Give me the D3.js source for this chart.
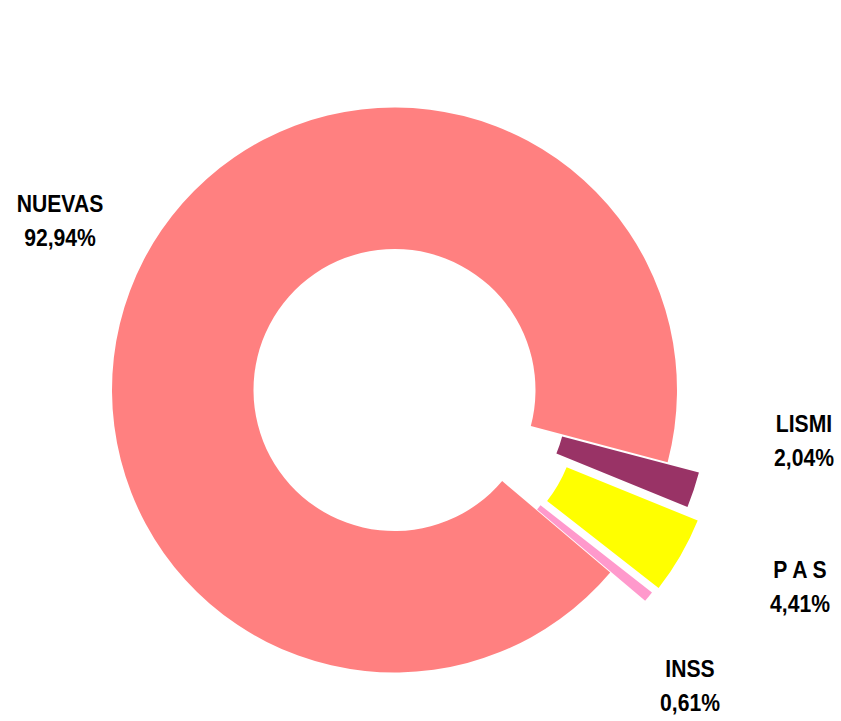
<!DOCTYPE html>
<html>
<head>
<meta charset="utf-8">
<script src="https://cdn.jsdelivr.net/npm/d3@7"></script>
<style>
  html, body { margin: 0; padding: 0; background: #fff; }
  svg { display: block; }
  text { font-family: "Liberation Sans", Arial, sans-serif; font-weight: bold; fill: #000; }
</style>
</head>
<body>
<svg id="chart" width="841" height="721"></svg>
<script>
// ---- data ----
const categories  = ["LISMI", "P A S", "INSS", "NUEVAS"];
const values      = [2.04, 4.41, 0.61, 92.94];
const valueLabels = ["2,04%", "4,41%", "0,61%", "92,94%"];

// ---- styles / layout ----
const colors   = ["#993366", "#FFFF00", "#FF99CC", "#FF8080"];
const explode  = [33, 48, 45, 0];               // px the slice is pulled out
const labelPos = [[409.5, 42], [405.5, 188], [295.5, 287], [-334.5, -178]]; // relative to centre
const cx = 394.5, cy = 390, rOuter = 282.5, rInner = 141;
const startDeg = 104.8;

const svg = d3.select("#chart");
const g = svg.append("g").attr("transform", `translate(${cx},${cy})`);

const data = categories.map((c, i) => ({ name: c, value: values[i], label: valueLabels[i], color: colors[i], ex: explode[i], lp: labelPos[i] }));

const pie = d3.pie().sort(null).value(d => d.value)
  .startAngle(startDeg * Math.PI / 180)
  .endAngle(startDeg * Math.PI / 180 + 2 * Math.PI);

const arc = d3.arc().innerRadius(rInner).outerRadius(rOuter);

const arcs = pie(data);

g.selectAll("path.slice").data(arcs).enter().append("path")
  .attr("class", "slice")
  .attr("d", arc)
  .attr("fill", d => d.data.color)
  .attr("transform", d => {
    const mid = (d.startAngle + d.endAngle) / 2;
    return `translate(${d.data.ex * Math.sin(mid)},${-d.data.ex * Math.cos(mid)})`;
  });

const lab = g.selectAll("g.lab").data(arcs).enter().append("g")
  .attr("class", "lab")
  .attr("transform", d => `translate(${d.data.lp[0]},${d.data.lp[1]}) scale(0.92,1)`);

lab.append("text")
  .attr("text-anchor", "middle")
  .attr("font-size", 23)
  .text(d => d.data.name);

lab.append("text")
  .attr("text-anchor", "middle")
  .attr("font-size", 23)
  .attr("y", 34)
  .text(d => d.data.label);
</script>
</body>
</html>
